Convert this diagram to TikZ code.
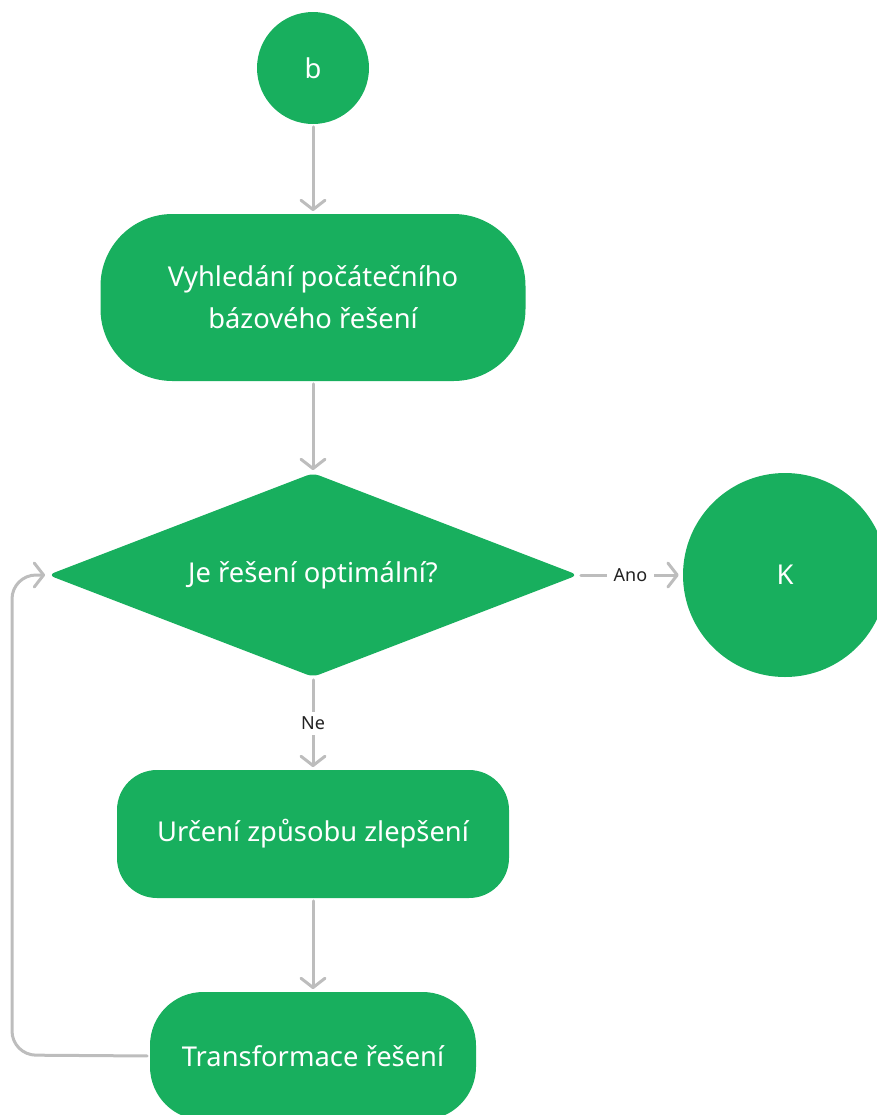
\documentclass[tikz,border=0pt]{standalone}
\usepackage{fontspec}
\setmainfont{Noto Sans}
\usetikzlibrary{shapes.geometric,arrows.meta}
\definecolor{fgreen}{HTML}{18AF5E}
\definecolor{lgray}{HTML}{BDBDBD}
\definecolor{ltext}{HTML}{222222}
\tikzset{
  box/.style={fill=fgreen,text=white,align=center,font=\fontsize{20.5}{31.5}\selectfont,inner sep=0pt},
  circ/.style={circle,fill=fgreen,text=white,font=\fontsize{20.5}{24}\selectfont,inner sep=0pt},
  conn/.style={draw=lgray,line width=2.25pt,line cap=round,
    -{Straight Barb[length=7pt,width=18pt,line width=2.25pt,round]}},
  lab/.style={fill=white,text=ltext,font=\fontsize{13.5}{15}\selectfont,inner xsep=5pt,inner ysep=4pt}
}
\begin{document}
\begin{tikzpicture}[x=0.75pt,y=-0.75pt]
\useasboundingbox (0,0) rectangle (876,1115);
\node[circ,minimum size=84pt] (b) at (313,68) {b};
\node[box,rounded corners=54pt,minimum width=318.75pt,minimum height=125.25pt] (v) at (313,297.5) {Vyhledání počátečního\\bázového řešení};
\node[box,diamond,aspect=2.6,minimum width=397.5pt,minimum height=153pt,rounded corners=5pt] (d) at (313,575) {Je řešení optimální?};
\node[circ,minimum size=153pt] (k) at (785,575) {K};
\node[box,rounded corners=30pt,minimum width=294pt,minimum height=96pt] (u) at (313,834) {Určení způsobu zlepšení};
\node[box,rounded corners=40pt,minimum width=244.5pt,minimum height=96pt] (t) at (313,1056) {Transformace řešení};
\draw[conn,shorten <=2pt,shorten >=2pt] (b) -- (v);
\draw[conn,shorten <=2pt,shorten >=2pt] (v) -- (d);
\draw[conn,shorten <=2pt,shorten >=3pt] (d.east) -- node[lab]{Ano} (k);
\draw[conn,shorten <=2pt,shorten >=2pt] (d.south) -- node[lab]{Ne} (u);
\draw[conn,shorten <=2pt,shorten >=2pt] (u) -- (t);
\coordinate (c1) at (12,1055);
\coordinate (c2) at (12,575);
\draw[conn,rounded corners=18pt,shorten <=2pt,shorten >=2pt] (t.west) -- (c1) -- (c2) -- (d.west);
\end{tikzpicture}
\end{document}
